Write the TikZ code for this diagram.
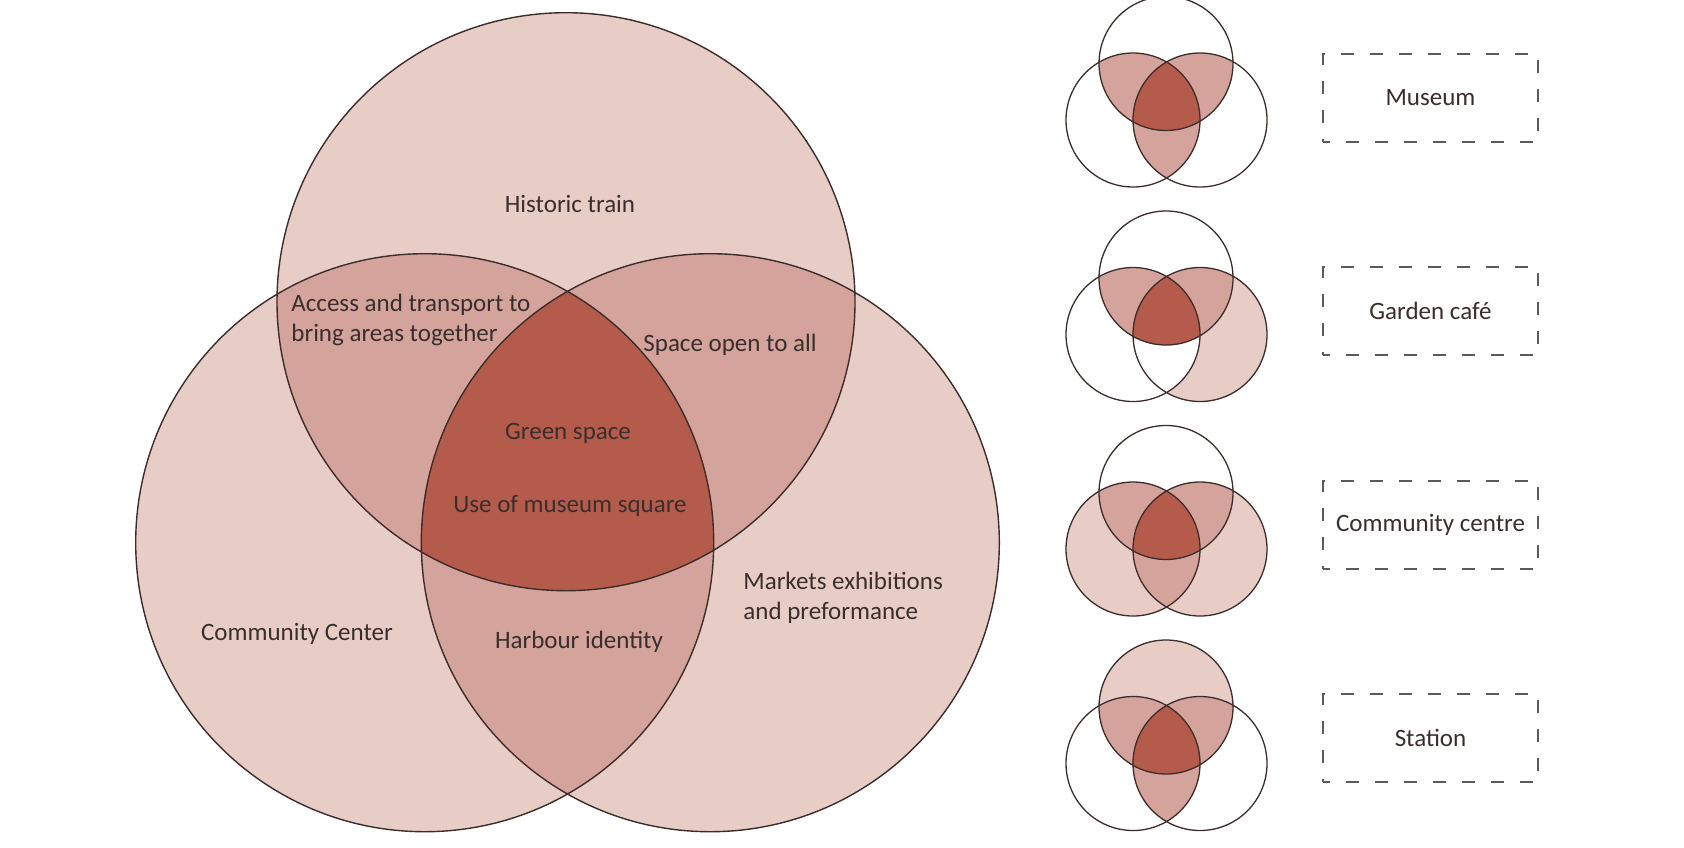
\documentclass[tikz,border=0pt]{standalone}
\usepackage{fontspec}
\setmainfont{Carlito}
\definecolor{vlight}{HTML}{E8CDC7}
\definecolor{vmed}{HTML}{D4A39B}
\definecolor{vdark}{HTML}{B55B4C}
\definecolor{vline}{HTML}{3C2C2A}
\definecolor{vtext}{HTML}{3A2E2C}
\definecolor{vdash}{HTML}{5A5A5A}
\newcommand\rb{289}
\newcommand\rs{67}
\newcommand\vennpair[2]{%
  \begin{scope}\clip (#1L) circle (\rs); \fill[#2] (#1R) circle (\rs);\end{scope}
  \begin{scope}\clip (#1T) circle (\rs); \fill[vmed] (#1L) circle (\rs); \fill[vmed] (#1R) circle (\rs);\end{scope}
  \begin{scope}\clip (#1T) circle (\rs); \clip (#1L) circle (\rs); \fill[vdark] (#1R) circle (\rs);\end{scope}
  \draw[sline] (#1T) circle (\rs) (#1L) circle (\rs) (#1R) circle (\rs);
}
\begin{document}
\begin{tikzpicture}[x=0.5pt,y=-0.5pt,
  bline/.style={draw=vline, line width=0.7pt},
  sline/.style={draw=vline, line width=0.65pt},
  lbl/.style={text=vtext, font=\fontsize{12.5}{15}\selectfont, inner sep=0pt},
  tagbox/.style={lbl, draw=vdash, dash pattern=on 6.5pt off 8pt, dash phase=3pt, line width=1pt,
    minimum width=107.5pt, minimum height=44pt}]
\useasboundingbox (0,0) rectangle (1684,847);
% ---------- big Venn ----------
\coordinate (T) at (566,301.7);
\coordinate (L) at (424.7,542.7);
\coordinate (R) at (710.3,542.7);
\fill[vlight] (T) circle (\rb) (L) circle (\rb) (R) circle (\rb);
\begin{scope}\clip (T) circle (\rb); \fill[vmed] (L) circle (\rb); \fill[vmed] (R) circle (\rb);\end{scope}
\begin{scope}\clip (L) circle (\rb); \fill[vmed] (R) circle (\rb);\end{scope}
\begin{scope}\clip (T) circle (\rb); \clip (L) circle (\rb); \fill[vdark] (R) circle (\rb);\end{scope}
\draw[bline] (T) circle (\rb) (L) circle (\rb) (R) circle (\rb);
\node[lbl] (historic) at (570,204) {Historic train};
\node[lbl, align=left, anchor=west] (access) at (291,320) {Access and transport to\\bring areas together};
\node[lbl] (open) at (730,345) {Space open to all};
\node[lbl] (green) at (568,433) {Green space};
\node[lbl] (square) at (570,506) {Use of museum square};
\node[lbl, align=left, anchor=west] (markets) at (743,598) {Markets exhibitions\\and preformance};
\node[lbl] (harbour) at (579,642) {Harbour identity};
\node[lbl] (community) at (297,634) {Community Center};
% ---------- small Venns ----------
% Museum
\coordinate (mT) at (1166,63.5);
\coordinate (mL) at (1133,120);
\coordinate (mR) at (1200,120);
\vennpair{m}{vmed}
% Garden cafe
\coordinate (gT) at (1166,278);
\coordinate (gL) at (1133,334.5);
\coordinate (gR) at (1200,334.5);
\fill[vlight] (gR) circle (\rs);
\vennpair{g}{white}
% Community centre
\coordinate (cT) at (1166,492.5);
\coordinate (cL) at (1133,549);
\coordinate (cR) at (1200,549);
\fill[vlight] (cL) circle (\rs) (cR) circle (\rs);
\vennpair{c}{vmed}
% Station
\coordinate (sT) at (1166,707);
\coordinate (sL) at (1133,763.5);
\coordinate (sR) at (1200,763.5);
\fill[vlight] (sT) circle (\rs);
\vennpair{s}{vmed}
% ---------- tags ----------
\node[tagbox] (museum) at (1430.5,98) {Museum};
\node[tagbox] (garden) at (1430.5,311.3) {Garden café};
\node[tagbox] (centre) at (1430.5,524.7) {Community centre};
\node[tagbox] (station) at (1430.5,738) {Station};
\end{tikzpicture}
\end{document}
